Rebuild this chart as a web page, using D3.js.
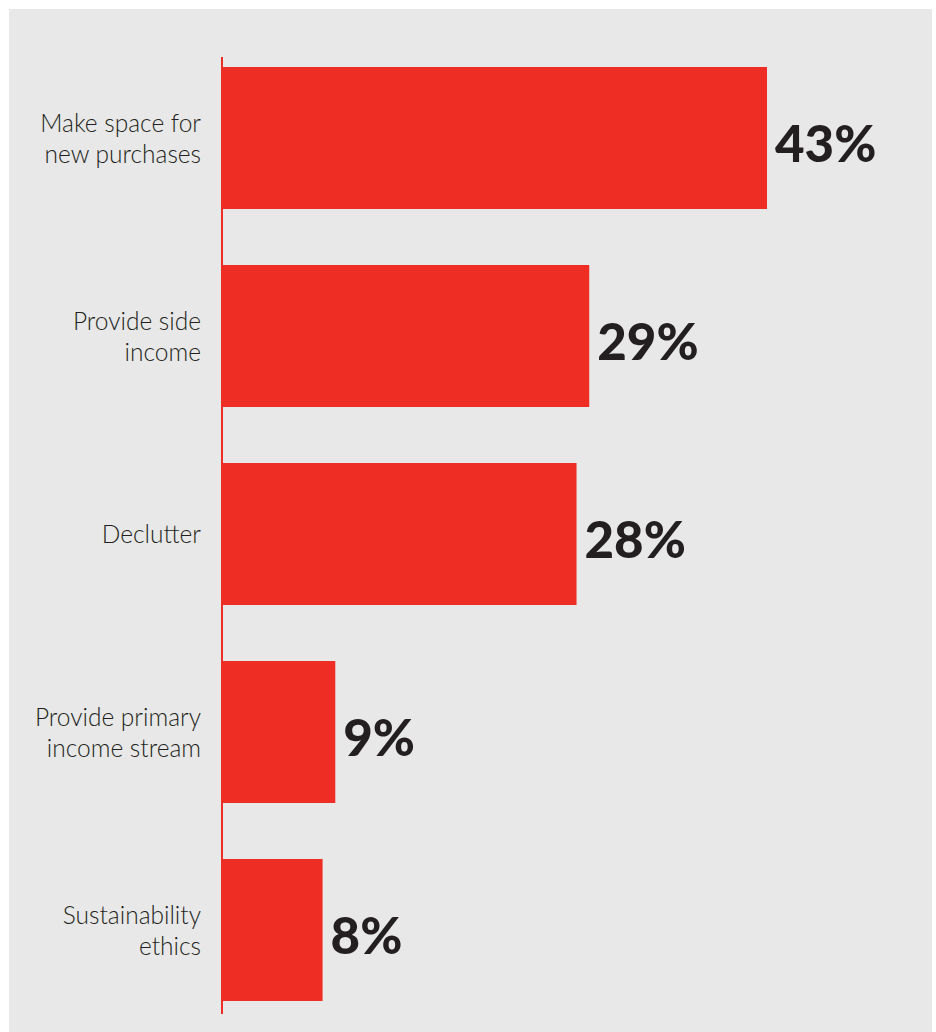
<!DOCTYPE html>
<html><head><meta charset="utf-8">
<script src="https://cdn.jsdelivr.net/npm/d3@7"></script>
<style>body{margin:0;background:#fff;}svg{display:block;}</style>
</head><body>
<svg id="c" width="936" height="1032"></svg>
<script>
const categories = [
  ["Make space for", "new purchases"],
  ["Provide side", "income"],
  ["Declutter"],
  ["Provide primary", "income stream"],
  ["Sustainability", "ethics"]
];
const values = [43, 29, 28, 9, 8];
const valueLabels = ["43%", "29%", "28%", "9%", "8%"];

const svg = d3.select("#c");
svg.append("rect").attr("x", 9).attr("y", 9).attr("width", 923).attr("height", 1023).attr("fill", "#e7e8e7");

const idx = d3.range(values.length);
const x = d3.scaleLinear().domain([0, 43]).range([221, 767]);
const y = d3.scaleBand().domain(idx).range([67, 1001]).paddingInner(56/198).paddingOuter(0);
const bw = y.bandwidth();

svg.selectAll("rect.bar").data(idx).join("rect").attr("class", "bar")
  .attr("x", x(0)).attr("y", i => y(i)).attr("width", i => x(values[i]) - x(0))
  .attr("height", bw).attr("fill", "#ee2e24");

svg.append("line").attr("x1", 222).attr("x2", 222).attr("y1", 57).attr("y2", 1014)
  .attr("stroke", "#ee2e24").attr("stroke-width", 2);

svg.selectAll("text.val").data(idx).join("text").attr("class", "val")
  .attr("x", i => x(values[i]) + 8).attr("y", i => y(i) + bw / 2 + 24)
  .attr("font-family", "Lato, sans-serif").attr("font-weight", 900).attr("font-size", 51)
  .attr("fill", "#231f20").text(i => valueLabels[i]);

const lab = svg.selectAll("text.cat").data(idx).join("text").attr("class", "cat")
  .attr("text-anchor", "end").attr("font-family", "Lato, sans-serif").attr("font-weight", 300)
  .attr("font-size", 24.5).attr("fill", "#231f20");
lab.each(function(i) {
  const lines = categories[i];
  const cy = y(i) + bw / 2;
  const n = lines.length;
  d3.select(this).selectAll("tspan").data(lines).join("tspan")
    .attr("x", 201).attr("y", (d, k) => cy + 9 + (k - (n - 1) / 2) * 31)
    .text(d => d);
});
</script>
</body></html>
